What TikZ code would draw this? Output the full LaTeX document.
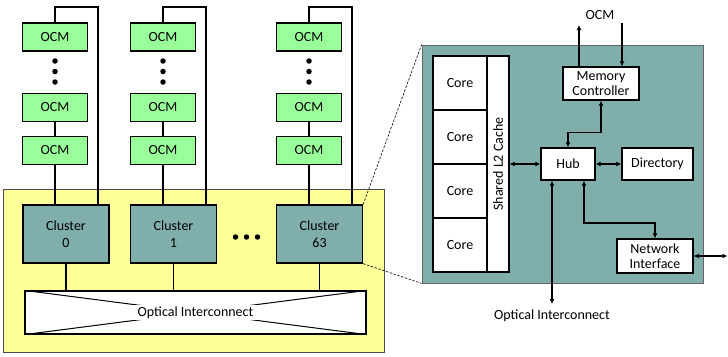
\documentclass[tikz,border=0pt]{standalone}
\usepackage{fontspec}
\setmainfont{Carlito}
\usetikzlibrary{arrows.meta}
\definecolor{ocmgreen}{RGB}{153,255,153}
\definecolor{tealc}{RGB}{128,174,170}
\definecolor{yel}{RGB}{255,255,153}
\begin{document}
\begin{tikzpicture}[x=1pt,y=-1pt,
  font=\fontsize{14}{16.5}\selectfont,
  box/.style={draw=black,line width=1.3pt,inner sep=0pt,align=center},
  ocm/.style={box,fill=ocmgreen,minimum width=65pt,minimum height=28pt},
  cluster/.style={box,fill=tealc,minimum width=86pt,minimum height=58pt},
  wbox/.style={box,fill=white},
  conn/.style={line width=1.2pt},
  arr/.style={line width=1.2pt,{Latex[length=5pt,width=5pt]}-{Latex[length=5pt,width=5pt]}},
  sarr/.style={line width=1.2pt,-{Latex[length=5pt,width=5pt]}},
  dot/.style={circle,fill=black,inner sep=0pt,minimum size=5.5pt},
  dashl/.style={dashed,line width=0.6pt,dash pattern=on 2.5pt off 1.5pt}]
\useasboundingbox (0,0) rectangle (728,356);

% yellow background
\node[draw=black!70,line width=0.8pt,fill=yel,minimum width=381pt,minimum height=163pt,inner sep=0pt] (yb) at (193.5,270.5) {};

% OCM columns
\foreach \i/\cx/\rx in {0/55/98,1/163/206,2/309/352}{
  \node[ocm] (o\i a) at (\cx,37) {OCM};
  \node[ocm] (o\i b) at (\cx,107.5) {OCM};
  \node[ocm] (o\i c) at (\cx,150.5) {OCM};
  \node[dot] (d\i a) at (\cx,61) {};
  \node[dot] (d\i b) at (\cx,71.5) {};
  \node[dot] (d\i c) at (\cx,82) {};
  \coordinate (t\i) at (\rx,7);
}

% clusters
\node[cluster] (cl0) at (66,234) {Cluster\\0};
\node[cluster] (cl1) at (173.5,234) {Cluster\\1};
\node[cluster] (cl63) at (319.5,234) {Cluster\\63};
\node[dot] (cd1) at (235.5,237) {};
\node[dot] (cd2) at (246.5,237) {};
\node[dot] (cd3) at (257.5,237) {};

% OCM to cluster connections
\foreach \i/\c in {0/cl0,1/cl1,2/cl63}{
  \draw[conn] (o\i b) -- (o\i c);
  \draw[conn] (o\i c.south) -- (o\i c.south |- \c.north);
  \draw[conn] (t\i |- \c.north) -- (t\i) -| (o\i a.north);
}

% optical interconnect
\node[box,line width=1.2pt,fill=white,minimum width=341pt,minimum height=43pt] (oi) at (195.5,312.5) {};
\draw[line width=1pt] (oi.north west) -- (oi.south east);
\draw[line width=1pt] (oi.south west) -- (oi.north east);
\node[fill=white,inner xsep=5pt,inner ysep=2pt] (oit) at (oi.center) {Optical Interconnect};
\foreach \c in {cl0,cl1,cl63}{
  \draw[conn] (\c.south) -- (\c.south |- oi.north);
}

% teal detail box
\node[draw=black!60,line width=0.8pt,fill=tealc,minimum width=281pt,minimum height=238pt,inner sep=0pt] (tb) at (562.5,164) {};
\draw[dashl] (cl63.north east) -- (tb.north west);
\draw[dashl] (cl63.south east) -- (tb.south west);

% cores and L2
\node[wbox,minimum width=54pt,minimum height=54pt] (c1) at (460,83) {Core};
\node[wbox,minimum width=54pt,minimum height=54pt] (c2) at (460,137) {Core};
\node[wbox,minimum width=54pt,minimum height=54pt] (c3) at (460,191) {Core};
\node[wbox,minimum width=54pt,minimum height=54pt] (c4) at (460,245) {Core};
\node[wbox,minimum width=22pt,minimum height=216pt] (l2) at (498,164) {};
\node[rotate=90,inner sep=0pt] (l2t) at (l2.center) {Shared L2 Cache};

% memory controller, hub, directory, NI
\node[wbox,minimum width=76pt,minimum height=33pt] (mc) at (601,83.5) {Memory\\[-1.5pt]Controller};
\node[wbox,minimum width=54pt,minimum height=32pt] (hub) at (568,164) {Hub};
\node[wbox,minimum width=71pt,minimum height=32pt] (dir) at (657.5,164) {Directory};
\node[wbox,minimum width=76pt,minimum height=34pt] (ni) at (655,256) {Network\\[-1.5pt]Interface};

% labels
\node (ocml) at (600,15) {OCM};
\node (oil) at (552,316) {Optical Interconnect};

% connectors
\coordinate (mcup) at (579,25);
\coordinate (mcdn) at (622,23);
\draw[sarr] (mc.north -| mcup) -- (mcup);
\draw[sarr] (mcdn) -- (mc.north -| mcdn);
\draw[arr] (mc.south) -- ++(0,32) -| (hub.north);
\draw[arr] (l2.east |- hub) -- (hub.west);
\draw[arr] (hub.east) -- (dir.west);
\coordinate (hob) at (552,304);
\draw[arr] (hub.south -| hob) -- (hob);
\coordinate (hni) at (584,223);
\draw[arr] (hub.south -| hni) -- (hni) -| (ni.north);
\coordinate (niout) at (727.5,256);
\draw[arr] (ni.east) -- (niout);
\end{tikzpicture}
\end{document}
